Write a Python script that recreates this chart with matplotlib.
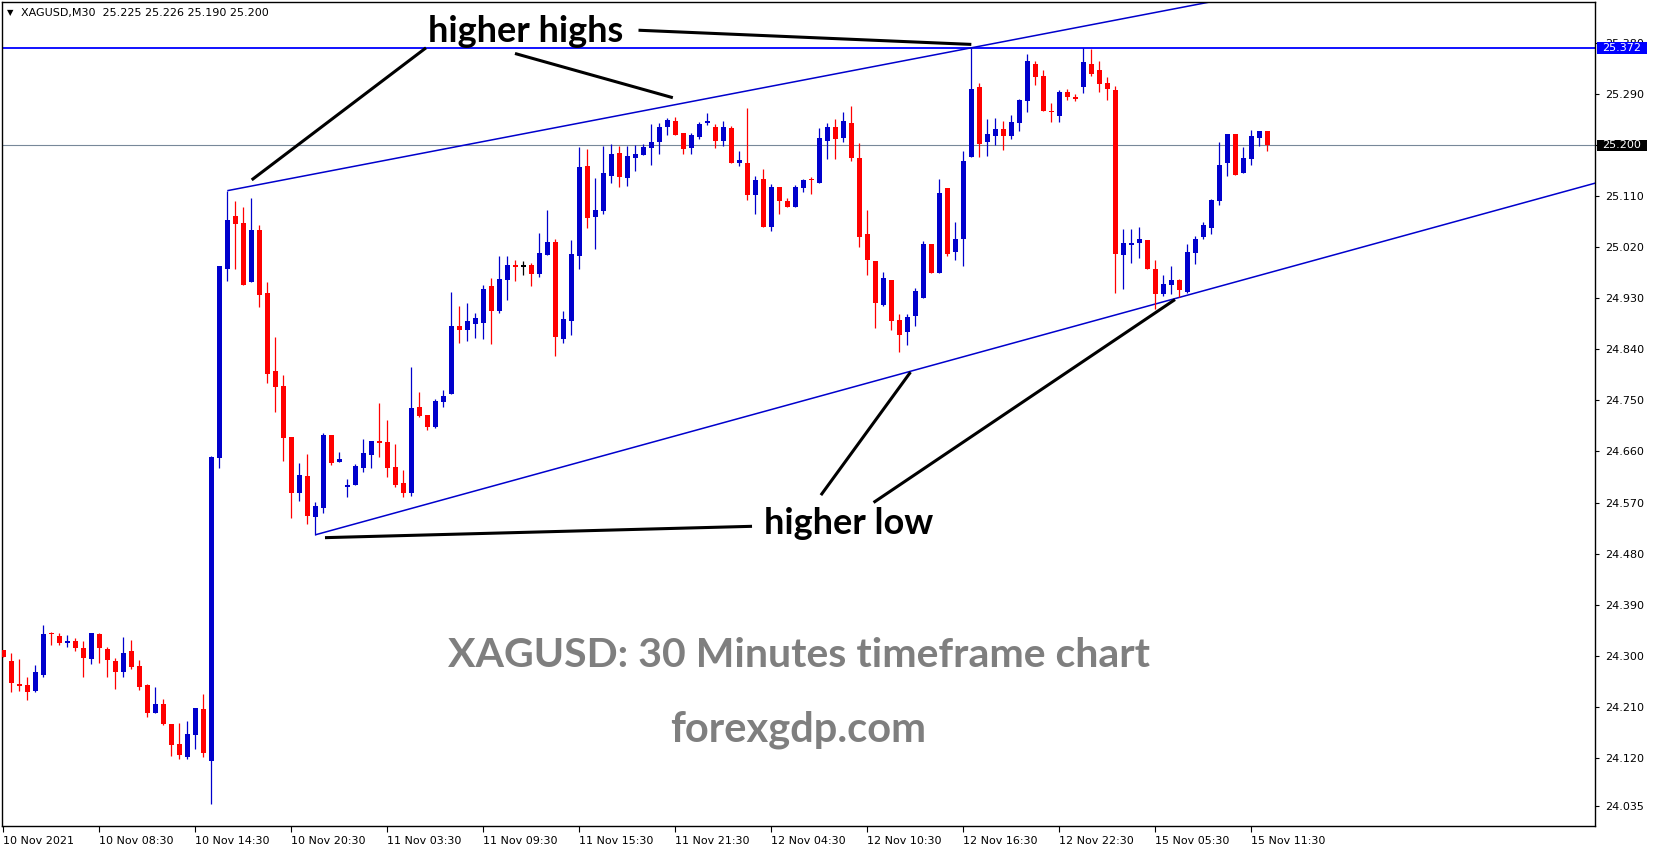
import matplotlib
matplotlib.use("Agg")
import matplotlib.pyplot as plt
import matplotlib.transforms as mtransforms
from matplotlib.patches import Rectangle
import numpy as np

# ---------------- data (XAGUSD, M30) ----------------
opens = [24.310, 24.291, 24.250, 24.248, 24.238, 24.266, 24.340, 24.335, 24.322, 24.326,
         24.313, 24.294, 24.338, 24.312, 24.291, 24.271, 24.308, 24.282, 24.248, 24.199,
         24.215, 24.179, 24.144, 24.121, 24.160, 24.206, 24.114, 24.649, 24.981, 25.075,
         25.063, 24.959, 25.050, 24.940, 24.802, 24.776, 24.686, 24.586, 24.617, 24.545,
         24.561, 24.689, 24.641, 24.598, 24.600, 24.631, 24.653, 24.678, 24.677, 24.632,
         24.604, 24.586, 24.738, 24.724, 24.704, 24.748, 24.762, 24.881, 24.875, 24.885,
         24.887, 24.952, 24.907, 24.963, 24.989, 24.987, 24.989, 24.973, 25.007, 25.029,
         24.858, 24.891, 25.005, 25.164, 25.074, 25.084, 25.146, 25.186, 25.143, 25.178,
         25.183, 25.196, 25.205, 25.233, 25.243, 25.221, 25.196, 25.215, 25.239, 25.232,
         25.208, 25.231, 25.169, 25.169, 25.112, 25.141, 25.056, 25.127, 25.102, 25.092,
         25.124, 25.141, 25.134, 25.208, 25.232, 25.213, 25.239, 25.178, 25.044, 24.996,
         24.919, 24.963, 24.892, 24.870, 24.899, 24.931, 25.026, 24.974, 25.125, 25.011,
         25.035, 25.180, 25.303, 25.205, 25.217, 25.229, 25.217, 25.240, 25.279, 25.343,
         25.322, 25.261, 25.252, 25.294, 25.286, 25.302, 25.343, 25.333, 25.310, 25.298,
         25.007, 25.025, 25.027, 25.033, 24.982, 24.937, 24.954, 24.962, 24.942, 25.010,
         25.038, 25.055, 25.101, 25.168, 25.220, 25.152, 25.175, 25.213, 25.225]
highs = [24.310, 24.305, 24.294, 24.262, 24.284, 24.354, 24.342, 24.340, 24.336, 24.331,
         24.326, 24.340, 24.340, 24.315, 24.296, 24.333, 24.328, 24.292, 24.250, 24.245,
         24.224, 24.179, 24.181, 24.185, 24.208, 24.232, 24.652, 24.987, 25.120, 25.102,
         25.091, 25.107, 25.060, 24.959, 24.862, 24.795, 24.686, 24.640, 24.656, 24.571,
         24.693, 24.689, 24.659, 24.612, 24.638, 24.682, 24.678, 24.746, 24.716, 24.673,
         24.628, 24.809, 24.765, 24.724, 24.753, 24.768, 24.941, 24.917, 24.922, 24.904,
         24.954, 24.966, 25.005, 25.005, 24.998, 24.996, 24.993, 25.045, 25.086, 25.035,
         24.908, 25.033, 25.197, 25.193, 25.142, 25.199, 25.202, 25.199, 25.199, 25.201,
         25.202, 25.238, 25.239, 25.248, 25.250, 25.221, 25.221, 25.241, 25.257, 25.238,
         25.243, 25.234, 25.190, 25.266, 25.146, 25.158, 25.132, 25.127, 25.107, 25.130,
         25.141, 25.144, 25.230, 25.239, 25.246, 25.259, 25.269, 25.204, 25.086, 24.996,
         24.977, 24.963, 24.903, 24.903, 24.949, 25.031, 25.026, 25.141, 25.125, 25.065,
         25.190, 25.372, 25.310, 25.246, 25.248, 25.243, 25.253, 25.282, 25.361, 25.349,
         25.333, 25.275, 25.298, 25.299, 25.291, 25.372, 25.370, 25.349, 25.320, 25.305,
         25.052, 25.052, 25.056, 25.033, 24.998, 24.971, 24.987, 24.964, 25.026, 25.040,
         25.065, 25.106, 25.206, 25.220, 25.220, 25.197, 25.227, 25.225, 25.226]
lows = [24.298, 24.236, 24.238, 24.222, 24.236, 24.263, 24.319, 24.319, 24.315, 24.308,
        24.262, 24.285, 24.287, 24.262, 24.241, 24.262, 24.276, 24.240, 24.192, 24.199,
        24.178, 24.123, 24.118, 24.118, 24.135, 24.121, 24.038, 24.631, 24.961, 24.981,
        24.953, 24.959, 24.914, 24.781, 24.730, 24.644, 24.542, 24.573, 24.532, 24.513,
        24.552, 24.637, 24.641, 24.579, 24.600, 24.624, 24.631, 24.651, 24.615, 24.598,
        24.579, 24.581, 24.721, 24.698, 24.701, 24.739, 24.762, 24.852, 24.854, 24.861,
        24.859, 24.850, 24.905, 24.928, 24.960, 24.971, 24.951, 24.968, 25.007, 24.829,
        24.852, 24.865, 24.982, 25.055, 25.018, 25.079, 25.134, 25.127, 25.129, 25.155,
        25.183, 25.165, 25.185, 25.218, 25.218, 25.185, 25.185, 25.211, 25.236, 25.196,
        25.198, 25.168, 25.164, 25.103, 25.078, 25.056, 25.049, 25.078, 25.092, 25.092,
        25.118, 25.115, 25.134, 25.176, 25.176, 25.205, 25.173, 25.021, 24.972, 24.877,
        24.917, 24.875, 24.836, 24.847, 24.882, 24.931, 24.974, 24.974, 25.004, 24.997,
        24.988, 25.180, 25.180, 25.182, 25.201, 25.191, 25.212, 25.226, 25.259, 25.307,
        25.261, 25.242, 25.242, 25.280, 25.278, 25.292, 25.322, 25.294, 25.280, 24.940,
        24.946, 24.992, 25.002, 24.981, 24.911, 24.935, 24.937, 24.933, 24.940, 24.991,
        25.034, 25.044, 25.094, 25.146, 25.148, 25.152, 25.166, 25.198, 25.190]
closes = [24.298, 24.251, 24.247, 24.236, 24.271, 24.338, 24.338, 24.322, 24.326, 24.313,
          24.296, 24.340, 24.313, 24.292, 24.271, 24.305, 24.280, 24.245, 24.199, 24.215,
          24.179, 24.142, 24.125, 24.162, 24.208, 24.128, 24.651, 24.987, 25.068, 25.062,
          24.954, 25.050, 24.936, 24.796, 24.773, 24.684, 24.586, 24.619, 24.547, 24.563,
          24.689, 24.639, 24.647, 24.601, 24.634, 24.657, 24.678, 24.675, 24.631, 24.601,
          24.587, 24.737, 24.723, 24.704, 24.749, 24.758, 24.881, 24.875, 24.890, 24.895,
          24.947, 24.907, 24.964, 24.989, 24.986, 24.987, 24.973, 25.010, 25.029, 24.862,
          24.894, 25.008, 25.162, 25.072, 25.086, 25.151, 25.185, 25.145, 25.181, 25.185,
          25.197, 25.206, 25.232, 25.245, 25.218, 25.194, 25.218, 25.238, 25.243, 25.208,
          25.232, 25.168, 25.174, 25.112, 25.139, 25.056, 25.127, 25.101, 25.092, 25.127,
          25.139, 25.138, 25.213, 25.232, 25.212, 25.243, 25.178, 25.039, 24.997, 24.922,
          24.966, 24.891, 24.866, 24.897, 24.943, 25.026, 24.974, 25.116, 25.009, 25.035,
          25.172, 25.299, 25.203, 25.220, 25.229, 25.217, 25.241, 25.280, 25.349, 25.321,
          25.261, 25.258, 25.294, 25.286, 25.282, 25.347, 25.326, 25.309, 25.299, 25.008,
          25.028, 25.028, 25.035, 24.981, 24.937, 24.956, 24.962, 24.945, 25.012, 25.035,
          25.060, 25.104, 25.165, 25.220, 25.148, 25.178, 25.216, 25.225, 25.200]

time_labels = ["10 Nov 2021", "10 Nov 08:30", "10 Nov 14:30", "10 Nov 20:30",
               "11 Nov 03:30", "11 Nov 09:30", "11 Nov 15:30", "11 Nov 21:30",
               "12 Nov 04:30", "12 Nov 10:30", "12 Nov 16:30", "12 Nov 22:30",
               "15 Nov 05:30", "15 Nov 11:30"]
time_label_bars = [0, 12, 24, 36, 48, 60, 72, 84, 96, 108, 120, 132, 144, 156]

price_ticks = [25.380, 25.290, 25.200, 25.110, 25.020, 24.930, 24.840, 24.750,
               24.660, 24.570, 24.480, 24.390, 24.300, 24.210, 24.120, 24.035]

resistance_level = 25.372
bid_price = 25.200
# trend lines: (bar, price) anchor pairs
upper_trend = [(28, 25.120), (121, 25.372)]
lower_trend = [(39, 24.513), (145, 24.924)]

# ---------------- styling ----------------
BULL = "#0000CC"
BEAR = "#FF0000"
DOJI = "#000000"
LINEBLUE = "#0000CC"
HLINE = "#0000FF"
BIDGREY = "#778899"
XMIN, XMAX = -0.1625, 198.96
YMIN, YMAX = 23.9994, 25.4528

W, H = 1653, 850
fig = plt.figure(figsize=(W / 100, H / 100), dpi=100, facecolor="white")
ax = fig.add_axes([2 / W, 24 / H, 1593 / W, 824 / H])
ax.set_xlim(XMIN, XMAX)
ax.set_ylim(YMIN, YMAX)

o = np.array(opens); h = np.array(highs); l = np.array(lows); c = np.array(closes)
x = np.arange(len(o))
cols = np.where(c > o, BULL, np.where(c < o, BEAR, DOJI))

ax.vlines(x, l, h, colors=cols, linewidth=0.9, zorder=3)
minh = 0.0024
body_lo = np.minimum(o, c)
body_h = np.abs(c - o)
pad = np.clip(minh - body_h, 0, None) / 2
ax.bar(x, np.maximum(body_h, minh), width=0.62, bottom=body_lo - pad,
       color=cols, linewidth=0, zorder=4)

# horizontal lines
ax.axhline(resistance_level, color=HLINE, linewidth=1.3, zorder=2)
ax.axhline(bid_price, color=BIDGREY, linewidth=0.8, zorder=2)

# trend lines as rays
for (x0, y0), (x1, y1) in (upper_trend, lower_trend):
    slope = (y1 - y0) / (x1 - x0)
    ax.plot([x0, XMAX + 5], [y0, y0 + slope * (XMAX + 5 - x0)],
            color=LINEBLUE, linewidth=1.1, zorder=2, solid_capstyle="butt")

# annotation lines (black)
ann_lines = [
    [(52.84, 25.372), (31.05, 25.139)],
    [(63.96, 25.362), (83.69, 25.284)],
    [(79.4, 25.403), (121.0, 25.378)],
    [(40.21, 24.508), (93.59, 24.528)],
    [(102.2, 24.583), (113.4, 24.800)],
    [(108.78, 24.570), (146.46, 24.928)],
]
for (xa, ya), (xb, yb) in ann_lines:
    ax.plot([xa, xb], [ya, yb], color="black", linewidth=2.2, zorder=5,
            solid_capstyle="butt")

ax.text(53.1, 25.383, "higher highs", fontfamily="Lato", fontweight="bold",
        fontsize=26, ha="left", va="baseline", color="black", zorder=6)
ax.text(95.1, 24.5145, "higher low", fontfamily="Lato", fontweight="bold",
        fontsize=26, ha="left", va="baseline", color="black", zorder=6)

ax.text(0.5, 0.1933, "XAGUSD: 30 Minutes timeframe chart", transform=ax.transAxes,
        fontfamily="Lato", fontweight="bold", fontsize=29.5, color="#7F7F7F",
        ha="center", va="baseline", zorder=1)
ax.text(0.5, 0.102, "forexgdp.com", transform=ax.transAxes,
        fontfamily="Lato", fontweight="bold", fontsize=30, color="#7F7F7F",
        ha="center", va="baseline", zorder=1)

# header text
fig.text(6.5 / W, 1 - 12.7 / H, "\u25BC", fontsize=6, ha="left", va="center",
         fontfamily="DejaVu Sans")
fig.text(20.7 / W, 1 - 12.7 / H, "XAGUSD,M30  25.225 25.226 25.190 25.200",
         fontsize=8, ha="left", va="center", fontfamily="DejaVu Sans")

# axes
ax.yaxis.tick_right()
ax.set_yticks(price_ticks)
ax.set_yticklabels([f"{v:.3f}" for v in price_ticks])
ax.set_xticks(time_label_bars)
ax.set_xticklabels(time_labels)
for lbl in ax.get_xticklabels():
    lbl.set_ha("left")
ax.tick_params(axis="y", direction="out", length=3, width=0.8, pad=4, labelsize=8)
ax.tick_params(axis="x", direction="out", length=4, width=0.8, pad=3, labelsize=8)
for s in ax.spines.values():
    s.set_linewidth(1.0)
    s.set_color("black")

# price boxes on the axis
blend = mtransforms.blended_transform_factory(ax.transAxes, ax.transData)
box_h = 11.4 / 824 * (YMAX - YMIN)
for price, fc in ((resistance_level, "#0000FF"), (bid_price, "#000000")):
    ax.add_patch(Rectangle((1 + 2.5 / 1593, price - box_h / 2), 49 / 1593, box_h,
                           transform=blend, facecolor=fc, edgecolor="none",
                           clip_on=False, zorder=10))
    ax.text(1 + 7.5 / 1593, price, f"{price:.3f}", transform=blend, color="white",
            fontsize=8, ha="left", va="center", clip_on=False, zorder=11)

fig.savefig("out.png", dpi=100, facecolor="white")
